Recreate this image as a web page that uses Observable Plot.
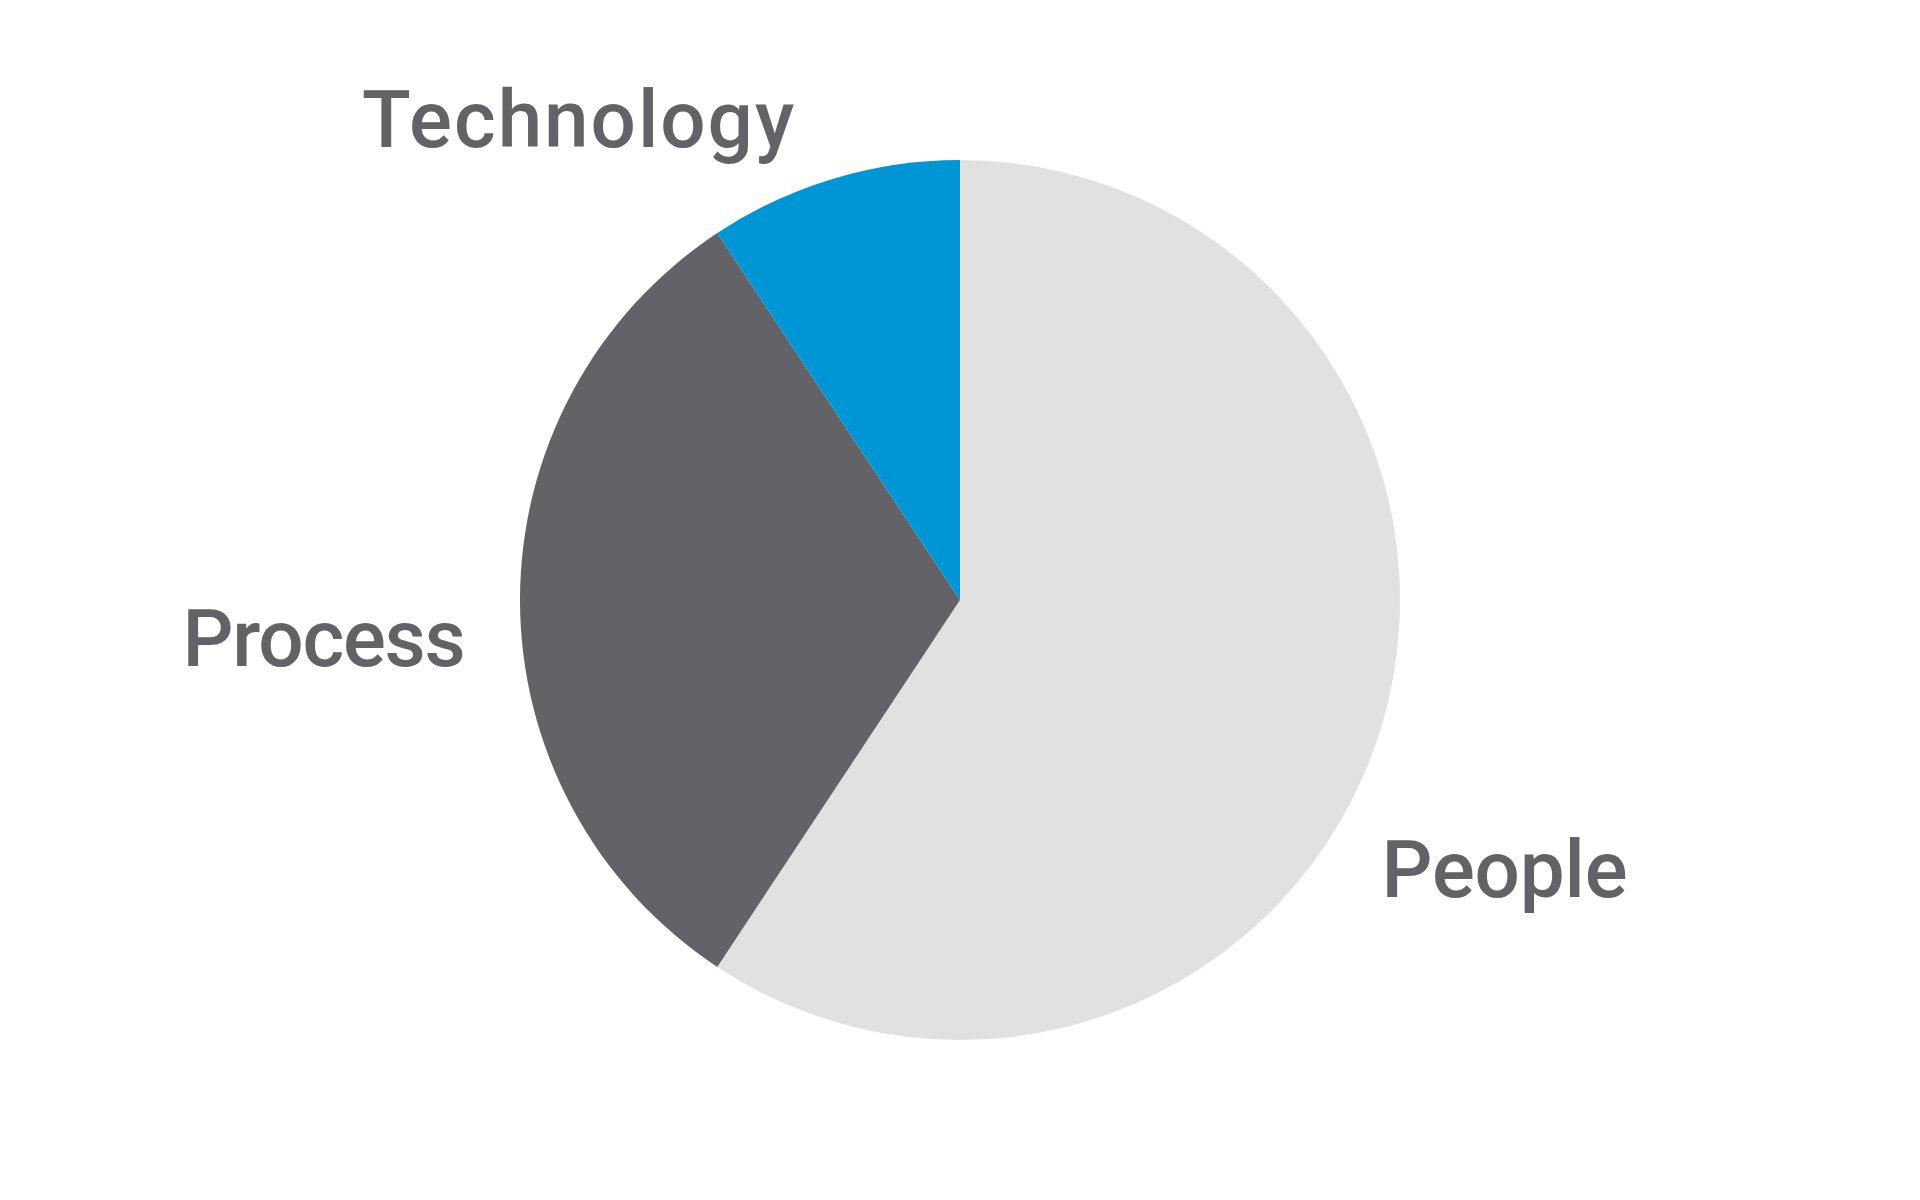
<!DOCTYPE html>
<html>
<head>
<meta charset="utf-8">
<script src="https://cdn.jsdelivr.net/npm/d3@7"></script>
<script src="https://cdn.jsdelivr.net/npm/@observablehq/plot@0.6"></script>
<style>
  html, body { margin: 0; padding: 0; background: #ffffff; }
  #chart { width: 1920px; height: 1200px; }
  #chart text { font-family: Roboto, Lato, sans-serif; }
</style>
</head>
<body>
<div id="chart"></div>
<script>
// ---- data ----
const categories = ["People", "Process", "Technology"];
const shares = [59.3, 31.4, 9.3];            // percent of the whole
const sliceColors = ["#e1e1e2", "#636266", "#0096d6"];

// ---- layout (in pie-radius units, centre = 0,0, y up) ----
const W = 1920, H = 1200, R = 440;
const labelPos = {
  Technology: {x: -1.360, y: 1.030, len: 432},
  Process:    {x: -1.768, y: -0.148, len: 283},
  People:     {x: 0.957,  y: -0.673, len: 246}
};

const rows = categories.map((c, i) => ({category: c, value: shares[i], color: sliceColors[i]}));

// pie slices drawn through the plot's x/y scales
function pieMark(index, scales, values, dimensions) {
  const cx = scales.x(0), cy = scales.y(0);
  const r = Math.abs(scales.x(1) - scales.x(0));
  const arcs = d3.pie().value(d => d.value)(rows);
  const arc = d3.arc().innerRadius(0).outerRadius(r);
  const g = d3.create("svg:g").attr("transform", `translate(${cx},${cy})`);
  g.selectAll("path").data(arcs).join("path")
    .attr("d", arc)
    .attr("fill", d => d.data.color);
  return g.node();
}

const labels = rows.map(d => ({category: d.category, ...labelPos[d.category]}));

const chart = Plot.plot({
  width: W,
  height: H,
  margin: 0,
  style: {background: "#ffffff"},
  x: {domain: [-W / 2 / R, W / 2 / R], axis: null},
  y: {domain: [-H / 2 / R, H / 2 / R], axis: null},
  marks: [
    pieMark,
    Plot.text(labels, {
      x: "x", y: "y", text: "category",
      textAnchor: "start", lineAnchor: "bottom",
      fontSize: 80, fill: "#636266", fontWeight: 500
    })
  ]
});

// stretch labels to the reference widths with letter spacing
d3.select(chart).selectAll("text").each(function() {
  const t = this.textContent.trim();
  const p = labelPos[t];
  if (p) {
    this.setAttribute("textLength", p.len);
    this.setAttribute("lengthAdjust", "spacing");
  }
});

document.getElementById("chart").appendChild(chart);
</script>
</body>
</html>
